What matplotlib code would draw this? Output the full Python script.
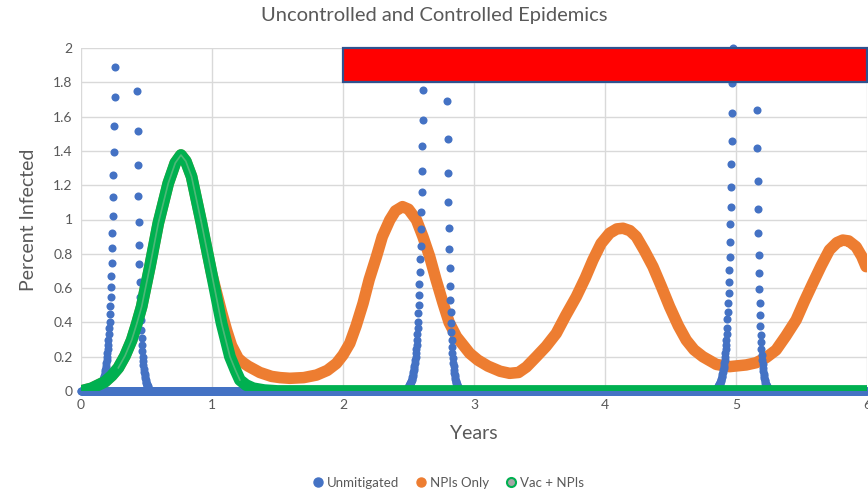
import numpy as np
import matplotlib
matplotlib.use("Agg")
import matplotlib.pyplot as plt
from matplotlib.patches import Rectangle
from matplotlib.lines import Line2D

plt.rcParams['font.family'] = ['Lato', 'DejaVu Sans']

# ---- data ----
DAY = 1 / 365.0

# unmitigated: daily samples on the two flanks of each spike (peaks go off-chart)
spike1_top = (0.259, 0.430)
spike1_up = [0.02, 0.024, 0.027, 0.03, 0.034, 0.038, 0.042, 0.047, 0.052, 0.058, 0.065,
             0.072, 0.08, 0.088, 0.098, 0.108, 0.12, 0.133, 0.147, 0.163, 0.18, 0.2, 0.22,
             0.245, 0.27, 0.30, 0.33, 0.365, 0.404, 0.447, 0.497, 0.550, 0.608, 0.672,
             0.748, 0.832, 0.920, 1.020, 1.133, 1.259, 1.395, 1.545, 1.712, 1.891]
spike1_down = [1.749, 1.516, 1.318, 1.139, 0.987, 0.851, 0.739, 0.637, 0.550, 0.476, 0.412,
               0.357, 0.309, 0.268, 0.232, 0.2, 0.174, 0.15, 0.13, 0.113, 0.098, 0.085,
               0.073, 0.063, 0.055, 0.048, 0.041, 0.036, 0.031, 0.027, 0.023, 0.02]

spike2_top = (2.611, 2.797)
spike2_up = [0.02, 0.024, 0.027, 0.03, 0.034, 0.038, 0.042, 0.047, 0.052, 0.058, 0.065,
             0.072, 0.08, 0.088, 0.098, 0.108, 0.12, 0.133, 0.147, 0.163, 0.18, 0.2, 0.22,
             0.245, 0.27, 0.30, 0.33, 0.365, 0.404, 0.453, 0.501, 0.560, 0.622, 0.692,
             0.768, 0.847, 0.945, 1.046, 1.162, 1.285, 1.429, 1.58, 1.755]
spike2_down = [1.693, 1.468, 1.269, 1.100, 0.952, 0.828, 0.715, 0.614, 0.531, 0.459, 0.397,
               0.343, 0.297, 0.257, 0.222, 0.192, 0.166, 0.144, 0.124, 0.107, 0.093, 0.08,
               0.069, 0.06, 0.052, 0.045, 0.039, 0.034, 0.029, 0.025, 0.022, 0.019]

spike3_top = (4.976, 5.159)
spike3_up = [0.02, 0.024, 0.027, 0.03, 0.034, 0.038, 0.042, 0.047, 0.052, 0.058, 0.065,
             0.072, 0.08, 0.088, 0.098, 0.108, 0.12, 0.133, 0.147, 0.163, 0.18, 0.2, 0.22,
             0.245, 0.27, 0.30, 0.33, 0.37, 0.418, 0.462, 0.515, 0.573, 0.637, 0.706,
             0.783, 0.871, 0.972, 1.075, 1.191, 1.322, 1.460, 1.619, 1.794, 1.998]
spike3_down = [1.638, 1.419, 1.226, 1.061, 0.919, 0.793, 0.686, 0.593, 0.511, 0.443, 0.381,
               0.327, 0.283, 0.245, 0.212, 0.183, 0.158, 0.137, 0.118, 0.102, 0.088, 0.076,
               0.066, 0.057, 0.049, 0.042, 0.037, 0.032, 0.027, 0.023, 0.02]

# NPIs only
npi_x = [0.0, 0.081, 0.183, 0.235, 0.285, 0.336, 0.387, 0.425, 0.463, 0.526, 0.590, 0.666,
         0.72, 0.763, 0.80, 0.844, 0.920, 0.997, 1.073, 1.111, 1.149, 1.20, 1.238, 1.276,
         1.365, 1.455, 1.52, 1.594, 1.70, 1.798, 1.88, 1.950, 2.00, 2.052, 2.10, 2.153, 2.20,
         2.255, 2.30, 2.357, 2.40, 2.454, 2.50, 2.561, 2.61, 2.662, 2.71, 2.764, 2.81, 2.866,
         2.967, 3.03, 3.107, 3.20, 3.272, 3.34, 3.40, 3.476, 3.55, 3.628, 3.70, 3.781, 3.85,
         3.908, 3.97, 4.035, 4.09, 4.137, 4.19, 4.239, 4.30, 4.366, 4.43, 4.493, 4.56, 4.620,
         4.68, 4.747, 4.85, 4.95, 5.078, 5.154, 5.23, 5.306, 5.38, 5.459, 5.52, 5.586, 5.65,
         5.713, 5.77, 5.815, 5.86, 5.917, 5.96, 5.993]
npi_y = [0.0, 0.016, 0.054, 0.09, 0.135, 0.205, 0.297, 0.39, 0.492, 0.725, 0.978, 1.211,
         1.33, 1.376, 1.34, 1.25, 0.978, 0.686, 0.46, 0.356, 0.265, 0.19, 0.165, 0.145,
         0.108, 0.085, 0.078, 0.074, 0.078, 0.093, 0.12, 0.161, 0.21, 0.278, 0.38, 0.511, 0.65,
         0.783, 0.90, 0.997, 1.05, 1.075, 1.06, 0.997, 0.90, 0.783, 0.65, 0.511, 0.40, 0.317,
         0.22, 0.18, 0.145, 0.115, 0.103, 0.108, 0.14, 0.2, 0.26, 0.336, 0.44, 0.55, 0.66,
         0.764, 0.86, 0.92, 0.945, 0.949, 0.935, 0.9, 0.82, 0.725, 0.61, 0.492, 0.38, 0.297,
         0.24, 0.2, 0.155, 0.142, 0.152, 0.165, 0.195, 0.239, 0.32, 0.414, 0.52, 0.628, 0.73,
         0.822, 0.865, 0.88, 0.875, 0.841, 0.785, 0.725]

# Vac + NPIs
vac_x = [0.0, 0.081, 0.183, 0.235, 0.285, 0.336, 0.387, 0.425, 0.463, 0.526, 0.590, 0.666,
         0.72, 0.763, 0.80, 0.844, 0.920, 0.997, 1.073, 1.137, 1.18, 1.213, 1.26, 1.315,
         1.40, 1.5, 6.0]
vac_y = [0.0, 0.016, 0.054, 0.09, 0.135, 0.205, 0.297, 0.39, 0.492, 0.725, 0.978, 1.211,
         1.33, 1.376, 1.34, 1.25, 0.978, 0.686, 0.395, 0.2, 0.12, 0.064, 0.035, 0.016,
         0.005, 0.0, 0.0]

# control period bar
bar_start, bar_end, bar_low, bar_high = 2, 6, 1.8, 2.0

BLUE = '#4472C4'
ORANGE = '#ED7D31'
GREEN = '#00B050'
GRAY = '#A5A5A5'
TXT = '#595959'

# assemble the unmitigated series
ux, uy = [], []
for top, up, down in [(spike1_top, spike1_up, spike1_down),
                      (spike2_top, spike2_up, spike2_down),
                      (spike3_top, spike3_up, spike3_down)]:
    n = len(up)
    ux += [top[0] - (n - 1 - i) * DAY for i in range(n)]
    uy += up
    ux += [top[1] + i * DAY for i in range(len(down))]
    uy += down
base_x = np.arange(0, 6 + DAY / 2, DAY)
ux = np.concatenate([base_x, ux])
uy = np.concatenate([np.zeros(len(base_x)), uy])

fig = plt.figure(figsize=(8.68, 4.92), dpi=100)
ax = fig.add_axes([81 / 868, 1 - 391 / 492, 786 / 868, 343 / 492])

ax.plot(npi_x, npi_y, color=ORANGE, lw=8.3, solid_capstyle='round',
        solid_joinstyle='round', zorder=2)
ax.plot(ux, uy, 'o', color=BLUE, ms=5.8, mec='none', zorder=3, clip_on=False)
ax.plot(vac_x, vac_y, color=GREEN, lw=8.5, solid_capstyle='round',
        solid_joinstyle='round', zorder=4)
# grey centres of the dense ring markers show along the hump
ax.plot(vac_x[4:22], vac_y[4:22], color='#8DBF98', lw=1.2, alpha=0.55, zorder=4.5)

ax.add_patch(Rectangle((bar_start, bar_low), bar_end - bar_start, bar_high - bar_low,
                       facecolor='#FF0000', edgecolor='#2F528F', lw=1.6,
                       zorder=6, clip_on=False))

ax.set_xlim(0, 6)
ax.set_ylim(0, 2)
ax.set_xticks(range(7))
ax.set_yticks(np.arange(0, 2.01, 0.2))
ax.set_yticklabels(['0', '0.2', '0.4', '0.6', '0.8', '1', '1.2', '1.4', '1.6', '1.8', '2'])
ax.grid(True, color='#D9D9D9', lw=1)
ax.set_axisbelow(True)
for s in ax.spines.values():
    s.set_visible(False)
ax.tick_params(length=0, labelsize=10, labelcolor=TXT, pad=6)

ax.set_xlabel('Years', fontsize=14, color=TXT, labelpad=10)
ax.set_ylabel('Percent Infected', fontsize=14, color=TXT, labelpad=12)
fig.text(0.5, 1 - 15 / 492, 'Uncontrolled and Controlled Epidemics', ha='center',
         va='center', fontsize=14.5, color=TXT)

handles = [
    Line2D([], [], ls='none', marker='o', ms=6.5, mfc=BLUE, mec=BLUE),
    Line2D([], [], ls='none', marker='o', ms=6.5, mfc=ORANGE, mec=ORANGE),
    Line2D([], [], ls='none', marker='o', ms=6.5, mfc=GRAY, mec=GREEN, mew=1.5),
]
fig.legend(handles, ['Unmitigated', 'NPIs Only', 'Vac + NPIs'], loc='center',
           bbox_to_anchor=(0.515, 1 - 483 / 492), ncol=3, frameon=False, fontsize=9.5,
           labelcolor=TXT, handletextpad=0.05, columnspacing=1.1, handlelength=1.2)

fig.savefig('out.png', dpi=100)
